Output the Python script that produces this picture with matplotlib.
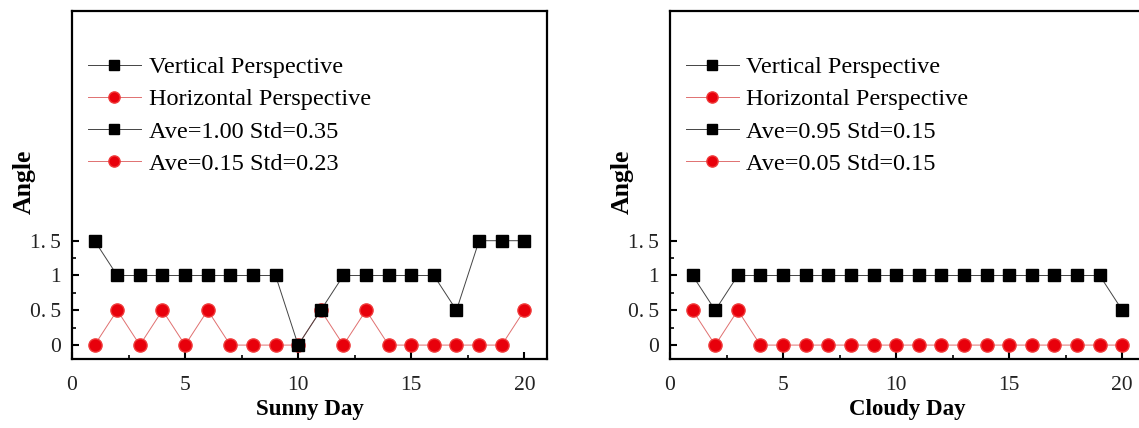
import matplotlib
matplotlib.use("Agg")
import matplotlib.pyplot as plt
from matplotlib.ticker import FixedLocator

# ── Data ──────────────────────────────────────────────────────────────────────
days = list(range(1, 21))
sunny_vertical = [1.5, 1, 1, 1, 1, 1, 1, 1, 1, 0, 0.5, 1, 1, 1, 1, 1, 0.5, 1.5, 1.5, 1.5]
sunny_horizontal = [0, 0.5, 0, 0.5, 0, 0.5, 0, 0, 0, 0, 0.5, 0, 0.5, 0, 0, 0, 0, 0, 0, 0.5]
cloudy_vertical = [1, 0.5, 1, 1, 1, 1, 1, 1, 1, 1, 1, 1, 1, 1, 1, 1, 1, 1, 1, 0.5]
cloudy_horizontal = [0.5, 0, 0.5, 0, 0, 0, 0, 0, 0, 0, 0, 0, 0, 0, 0, 0, 0, 0, 0, 0]

sunny_stats = ["Ave=1.00 Std=0.35", "Ave=0.15 Std=0.23"]
cloudy_stats = ["Ave=0.95 Std=0.15", "Ave=0.05 Std=0.15"]
series_names = ["Vertical Perspective", "Horizontal Perspective"]

y_ticks = [0, 0.5, 1, 1.5]
y_ticklabels = ["0", "0.\u20095", "1", "1.\u20095"]
x_ticks = [0, 5, 10, 15, 20]

RED = "#e8000b"
plt.rcParams["font.family"] = ["Liberation Serif", "DejaVu Serif"]


def panel(ax, vert, horiz, stats, xlabel):
    lv, = ax.plot(days, vert, color="#444444", lw=0.7, marker="s", ms=8.5,
                  mfc="black", mec="black", zorder=3)
    lh, = ax.plot(days, horiz, color="#e07070", lw=0.7, marker="o", ms=9.5,
                  mfc=RED, mec="#f03a3a", zorder=2)
    ax.set_xlim(0, 21)
    ax.set_ylim(-0.2, 4.8)
    ax.xaxis.set_major_locator(FixedLocator(x_ticks))
    ax.xaxis.set_minor_locator(FixedLocator([2.5, 7.5, 12.5, 17.5]))
    ax.yaxis.set_major_locator(FixedLocator(y_ticks))
    ax.yaxis.set_minor_locator(FixedLocator([0.25, 0.75, 1.25]))
    ax.set_yticklabels(y_ticklabels)
    ax.tick_params(which="major", direction="in", length=5, width=1.5,
                   labelsize=15.5, pad=8, colors="black", labelcolor="#222222")
    ax.tick_params(axis="x", which="major", pad=12)
    ax.tick_params(which="minor", direction="in", length=3, width=1.2)
    for s in ax.spines.values():
        s.set_linewidth(1.6)
    ax.set_xlabel(xlabel, fontsize=16.5, fontweight="bold", labelpad=3)
    ax.set_ylabel("Angle", fontsize=18.5, fontweight="bold", labelpad=-4)
    ax.yaxis.label.set_y(0.51)
    ax.legend([lv, lh, lv, lh], series_names + stats, loc="upper left",
              bbox_to_anchor=(-0.018, 0.94), frameon=False, fontsize=17.5,
              handlelength=2.2, handletextpad=0.3, labelspacing=0.42,
              borderaxespad=0.6, markerscale=0.85)


fig = plt.figure(figsize=(11.39, 4.28), dpi=100)
ax1 = fig.add_axes([0.0632, 0.1612, 0.417, 0.813])
ax2 = fig.add_axes([0.5882, 0.1612, 0.417, 0.813])

panel(ax1, sunny_vertical, sunny_horizontal, sunny_stats, "Sunny Day")
panel(ax2, cloudy_vertical, cloudy_horizontal, cloudy_stats, "Cloudy Day")

fig.savefig("out.png", dpi=100, facecolor="white")
